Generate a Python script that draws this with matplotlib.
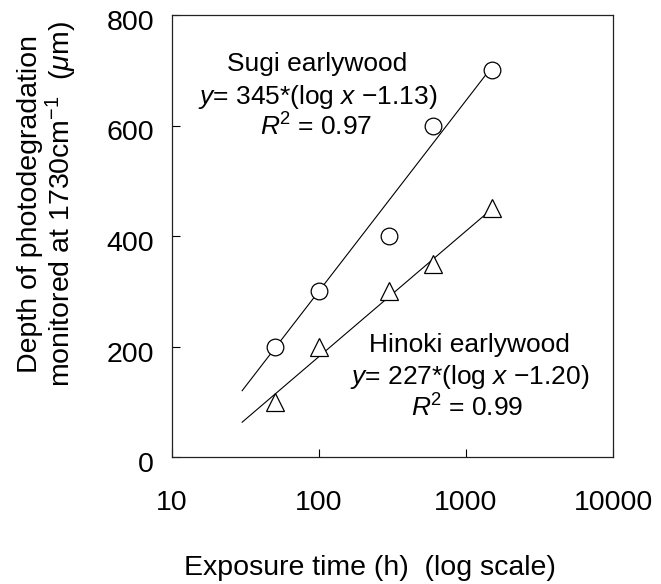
import matplotlib
matplotlib.use("Agg")
import matplotlib.pyplot as plt
import matplotlib.transforms as mtransforms
from matplotlib.ticker import FixedLocator, FixedFormatter

plt.rcParams['font.family'] = ['Liberation Sans', 'DejaVu Sans']
plt.rcParams['mathtext.fontset'] = 'custom'
plt.rcParams['mathtext.rm'] = 'Liberation Sans'
plt.rcParams['mathtext.it'] = 'Liberation Sans:italic'

# data
exposure = [50, 100, 300, 600, 1500]
sugi = [200, 300, 400, 600, 700]
hinoki = [100, 200, 300, 350, 450]

# fitted lines (end points)
fit_x = [30, 1500]
sugi_fit = [120, 706]
hinoki_fit = [63, 449]

x_ticks = [10, 100, 1000, 10000]
x_labels = ['10', '100', '1000', '10000']
y_ticks = [0, 200, 400, 600, 800]

W, H = 661, 584
fig = plt.figure(figsize=(W / 100, H / 100), dpi=100)
ax = fig.add_axes([172 / W, 1 - 457 / H, (613 - 172) / W, (457 - 15) / H])

ax.plot(fit_x, sugi_fit, color='black', lw=0.8, zorder=2)
ax.plot(fit_x, hinoki_fit, color='black', lw=0.8, zorder=2)
ax.plot(exposure, sugi, linestyle='none', marker='o', ms=12,
        mfc='white', mec='black', mew=0.9, zorder=3)
ax.plot(exposure, hinoki, linestyle='none', marker='^', ms=13,
        mfc='white', mec='black', mew=0.9, zorder=3)

ax.set_xscale('log')
ax.set_xlim(10, 10000)
ax.set_ylim(0, 800)
ax.xaxis.set_major_locator(FixedLocator(x_ticks))
ax.xaxis.set_major_formatter(FixedFormatter(x_labels))
ax.xaxis.set_minor_locator(FixedLocator([]))
ax.set_yticks(y_ticks)

ax.tick_params(axis='both', direction='in', length=6, width=0.8,
               labelsize=20.5, top=False, right=False)
ax.tick_params(axis='x', pad=24)
ax.tick_params(axis='y', pad=13)
for sp in ax.spines.values():
    sp.set_linewidth(0.9)
    sp.set_color('#222222')

# y tick labels sit a little low in the original
shift = mtransforms.ScaledTranslation(0, -5 / 100, fig.dpi_scale_trans)
for lab in ax.get_yticklabels():
    lab.set_transform(lab.get_transform() + shift)

fig.text(370 / W, 1 - 568 / H, 'Exposure time (h)  (log scale)',
         fontsize=20.5, ha='center', va='center')
fig.text(48 / W, 1 - 204 / H,
         'Depth of photodegradation\n'
         r'monitored at 1730cm$^{\mathregular{-1}}$  ($\mathit{\mu}$m)',
         fontsize=20.5, rotation=90, ha='center', va='center',
         linespacing=1.0, multialignment='center')

def fx(px):
    return px / W

def fy(py):
    return 1 - py / H

fs = 19
fig.text(fx(317), fy(64), 'Sugi earlywood', fontsize=fs, ha='center', va='center')
fig.text(fx(318), fy(97), r'$y$= 345*(log $x$ −1.13)', fontsize=fs,
         ha='center', va='center')
fig.text(fx(316), fy(127), r'$R$$^{\mathregular{2}}$ = 0.97', fontsize=fs,
         ha='center', va='center')

fig.text(fx(469), fy(345), 'Hinoki earlywood', fontsize=fs, ha='center', va='center')
fig.text(fx(470), fy(377), r'$y$= 227*(log $x$ −1.20)', fontsize=fs,
         ha='center', va='center')
fig.text(fx(467), fy(408), r'$R$$^{\mathregular{2}}$ = 0.99', fontsize=fs,
         ha='center', va='center')

fig.savefig('out.png', dpi=100)
